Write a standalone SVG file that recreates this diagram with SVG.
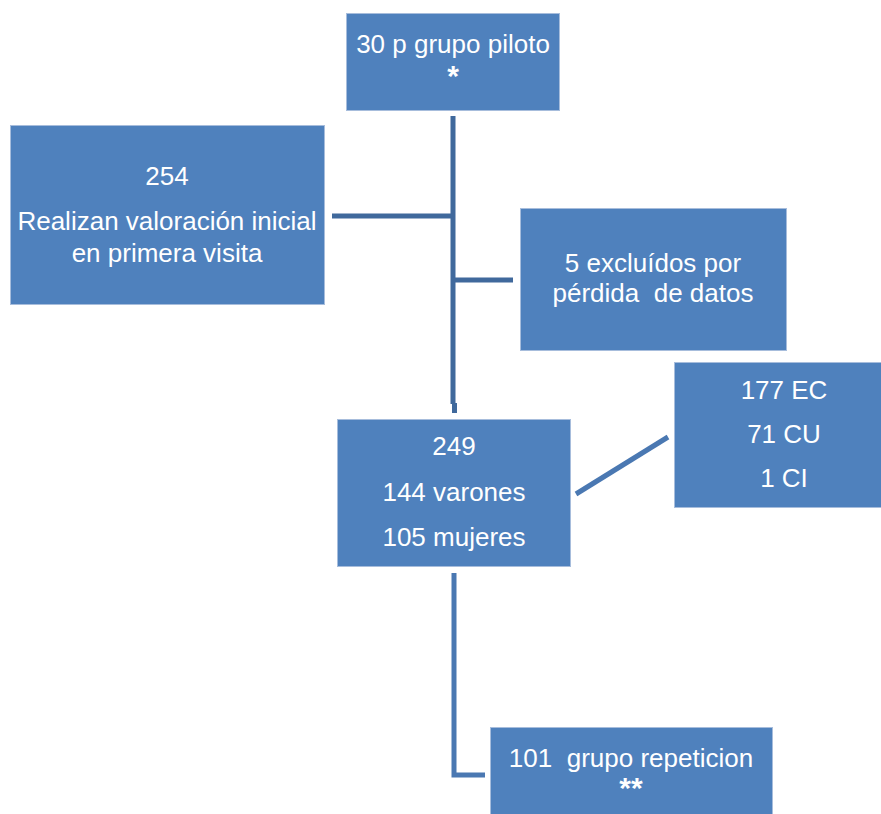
<svg xmlns="http://www.w3.org/2000/svg" width="881" height="814" viewBox="0 0 881 814">
<style>
.box{fill:#4f81bd;stroke:#a7bddc;stroke-width:1}
.t{font-family:"Liberation Sans",Arial,sans-serif;font-size:26px;fill:#ffffff;text-anchor:middle;white-space:pre}
.star{font-weight:bold;font-size:30px}
.c1{fill:none;stroke:#40699c;stroke-width:5}
.c2{fill:none;stroke:#4a78b2;stroke-width:5}
</style>
<rect width="881" height="814" fill="#ffffff"/>
<g id="connectors">
<path class="c1" d="M453,116 V404 M454.5,403 V413"/>
<path class="c1" d="M332,216 H453"/>
<path class="c1" d="M453,280 H513"/>
<path class="c2" d="M454,573 V775 H485"/>
<path class="c2" d="M576,494 L668,437"/>
</g>
<g id="piloto">
<rect class="box" x="346.5" y="13.5" width="213" height="97"/>
<text class="t" x="453" y="53">30 p grupo piloto</text>
<text class="t star" x="453" y="86">*</text>
</g>
<g id="inicial">
<rect class="box" x="10.5" y="125.5" width="314" height="179"/>
<text class="t" x="167" y="185">254</text>
<text class="t" x="167" y="230">Realizan valoración inicial</text>
<text class="t" x="167" y="262">en primera visita</text>
</g>
<g id="excluidos">
<rect class="box" x="520.5" y="208.5" width="266" height="142"/>
<text class="t" x="653" y="272">5 excluídos por</text>
<text class="t" x="653" y="302" xml:space="preserve">pérdida  de datos</text>
</g>
<g id="total">
<rect class="box" x="337.5" y="419.5" width="233" height="147"/>
<text class="t" x="454" y="455">249</text>
<text class="t" x="454" y="501">144 varones</text>
<text class="t" x="454" y="546">105 mujeres</text>
</g>
<g id="tipos">
<rect class="box" x="674.5" y="362.5" width="220" height="145"/>
<text class="t" x="784" y="399">177 EC</text>
<text class="t" x="784" y="443">71 CU</text>
<text class="t" x="784" y="487">1 CI</text>
</g>
<g id="repeticion">
<rect class="box" x="490.5" y="727.5" width="282" height="90"/>
<text class="t" x="631" y="767" xml:space="preserve">101  grupo repeticion</text>
<text class="t star" x="631" y="798">**</text>
</g>
</svg>
